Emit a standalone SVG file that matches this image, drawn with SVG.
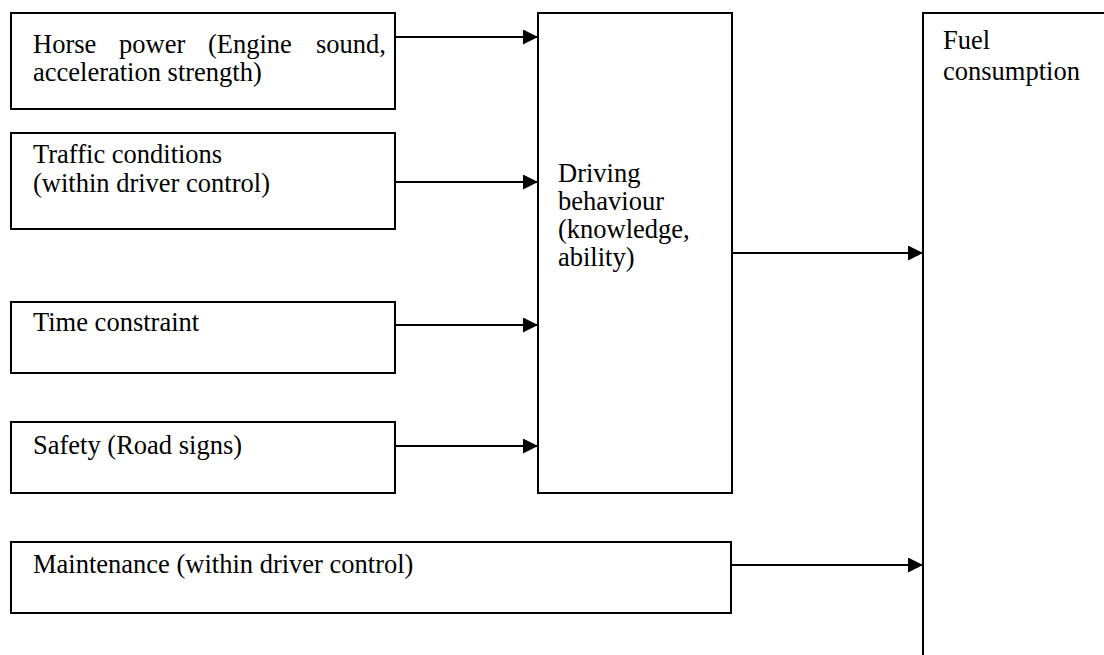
<svg xmlns="http://www.w3.org/2000/svg" width="1104" height="655" viewBox="0 0 1104 655">
<defs>
<style>
.box{fill:#fff;stroke:#000;stroke-width:2}
.t{font-family:"Liberation Serif","Times New Roman",serif;font-size:26.5px;fill:#000}
.c{stroke:#000;stroke-width:2;fill:none}
</style>
<marker id="ah" markerUnits="userSpaceOnUse" markerWidth="16" markerHeight="16" refX="15" refY="7.5" orient="auto">
<path d="M0,0 L15,7.5 L0,15 z" fill="#000"/>
</marker>
</defs>
<rect width="1104" height="655" fill="#fff"/>
<g id="horse">
<rect class="box" x="11" y="13" width="384" height="96"/>
<text class="t" y="53"><tspan x="33">Horse</tspan><tspan x="119">power</tspan><tspan x="208">(Engine</tspan><tspan x="316">sound,</tspan></text>
<text class="t" x="33" y="81">acceleration strength)</text>
</g>
<g id="traffic">
<rect class="box" x="11" y="133" width="384" height="96"/>
<text class="t" x="33" y="163">Traffic conditions</text>
<text class="t" x="33" y="192">(within driver control)</text>
</g>
<g id="time">
<rect class="box" x="11" y="302" width="384" height="71"/>
<text class="t" x="33" y="331">Time constraint</text>
</g>
<g id="safety">
<rect class="box" x="11" y="422" width="384" height="71"/>
<text class="t" x="33" y="454">Safety (Road signs)</text>
</g>
<g id="maintenance">
<rect class="box" x="11" y="542" width="720" height="71"/>
<text class="t" x="33" y="573">Maintenance (within driver control)</text>
</g>
<g id="driving">
<rect class="box" x="538" y="13" width="194" height="480"/>
<text class="t" x="558" y="182">Driving</text>
<text class="t" x="558" y="210">behaviour</text>
<text class="t" x="558" y="238">(knowledge,</text>
<text class="t" x="558" y="266">ability)</text>
</g>
<g id="fuel">
<rect class="box" x="923" y="13" width="220" height="700"/>
<text class="t" x="943" y="49">Fuel</text>
<text class="t" x="943" y="80">consumption</text>
</g>
<g id="connectors">
<line class="c" x1="395" y1="37" x2="538" y2="37" marker-end="url(#ah)"/>
<line class="c" x1="395" y1="182" x2="538" y2="182" marker-end="url(#ah)"/>
<line class="c" x1="395" y1="325" x2="538" y2="325" marker-end="url(#ah)"/>
<line class="c" x1="395" y1="446" x2="538" y2="446" marker-end="url(#ah)"/>
<line class="c" x1="732" y1="253" x2="923" y2="253" marker-end="url(#ah)"/>
<line class="c" x1="731" y1="565" x2="923" y2="565" marker-end="url(#ah)"/>
</g>
</svg>
